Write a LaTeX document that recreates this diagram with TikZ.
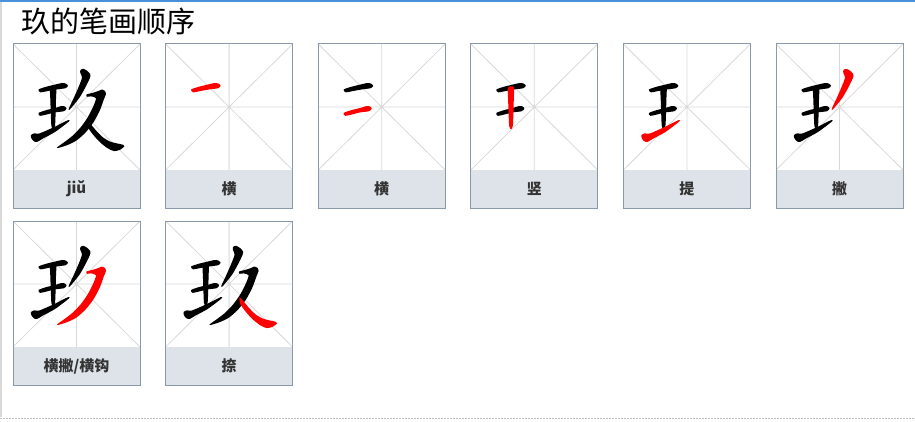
\documentclass[tikz,border=0pt]{standalone}
\usepackage{fontspec}
\usepackage{tikz}
\newfontfamily\cjk{Noto Sans CJK SC}
\definecolor{kuangxian}{RGB}{138,154,170}
\definecolor{biaodi}{RGB}{221,227,233}
\definecolor{gexian}{RGB}{216,216,216}
\definecolor{dinglan}{RGB}{74,144,217}
\definecolor{zihui}{RGB}{51,51,51}

\newcommand\huabi[2]{\ifcase#1\or
\fill[#2] plot[smooth cycle,tension=0.45] coordinates {(25.5,45.5) (33,42.8) (42,40.6) (49,39) (52.8,39.6) (55,41.8) (52.5,44.2) (44,45.4) (35,47) (27.5,48.3)};\or
\fill[#2] plot[smooth cycle,tension=0.45] coordinates {(25.5,69) (33,66.2) (42,64) (48.5,62) (51.8,62.5) (53.5,64.5) (51,67.2) (42,68.4) (34,70.4) (27,71.8)};\or
\fill[#2] plot[smooth cycle,tension=0.45] coordinates {(37,44) (40.5,42.3) (43.3,43.5) (43,55) (42.6,70) (42,82) (40.2,85.5) (38.4,82) (37.8,70) (37.3,55)};\or
\fill[#2] plot[smooth cycle,tension=0.45] coordinates {(18,91) (21.5,89.3) (26,89.6) (40,83.6) (55,76.2) (55.8,77.6) (42,88) (30,94.5) (24,98) (20.5,97) (18.3,94)};\or
\fill[#2] plot[smooth cycle,tension=0.45] coordinates {(67.5,26) (70.5,24.8) (74.8,27.3) (77.4,30.5) (76.9,34) (72.4,43.3) (66.4,53.8) (57,65.3) (55.8,64.7) (61.2,53) (66,42) (69,33.5) (67.3,29)};\or
\fill[#2] plot[smooth cycle,tension=0.45] coordinates {(73.5,50.5) (80,48.8) (86,46.8) (89,45.5) (91.8,46.8) (93,50) (91,55) (87,66) (80.5,78.3) (72.5,88.5) (63.5,96.5) (54.5,101) (45,104) (44.3,103.2) (51.5,98) (59.5,91.8) (67.5,83.5) (74.5,73.7) (80,63) (83,54.3) (78,52.4) (74,52.8)};\or
\fill[#2] plot[smooth cycle,tension=0.45] coordinates {(74,76.3) (78.3,80.8) (83.3,86.8) (90.2,93.6) (97.2,97.6) (104,99.4) (110.5,100.9) (111.3,102.5) (107,105.8) (101,107.1) (94.7,104.3) (87.6,98.8) (80.6,91.3) (74.6,82.8)};\fi}

\newcommand\zige[5]{%
\begin{scope}[shift={(#1,#2)}]
\fill[biaodi] (0,126) rectangle (127,164);
\draw[gexian, line width=0.8pt] (0,0) -- (127,126) (127,0) -- (0,126) (63.5,0) -- (63.5,126) (0,63) -- (127,63);
\foreach \k in {1,...,7}{\ifnum\k<#5 \huabi{\k}{black}\fi\ifnum\k=#5 \huabi{\k}{red}\fi}
\draw[kuangxian, line width=1pt] (0,0) rectangle (127,164);
\node[font=\cjk\bfseries\fontsize{15}{17}\selectfont, text=zihui] (#4) at (63.5,145) {#3};
\end{scope}}

\begin{document}
\begin{tikzpicture}[x=1pt, y=-1pt]
\useasboundingbox (0,0) rectangle (915,422);
\draw[dinglan, line width=2pt] (0,1) -- (915,1);
\draw[gray!30, line width=1.5pt] (1,2) -- (1,417);
\draw[gray!50, line width=1pt, dash pattern=on 1.5pt off 1.5pt] (0,418.5) -- (915,418.5);
\node[anchor=west, font=\cjk\fontsize{29}{31}\selectfont] (biaoti) at (17.5,21) {玖的笔画顺序};
\zige{13}{44}{jiǔ}{zi1}{8}
\zige{165.6}{44}{横}{zi2}{1}
\zige{318.2}{44}{横}{zi3}{2}
\zige{470.8}{44}{竖}{zi4}{3}
\zige{623.4}{44}{提}{zi5}{4}
\zige{776}{44}{撇}{zi6}{5}
\zige{13}{221}{横撇/横钩}{zi7}{6}
\zige{165.6}{221}{捺}{zi8}{7}
\end{tikzpicture}
\end{document}
